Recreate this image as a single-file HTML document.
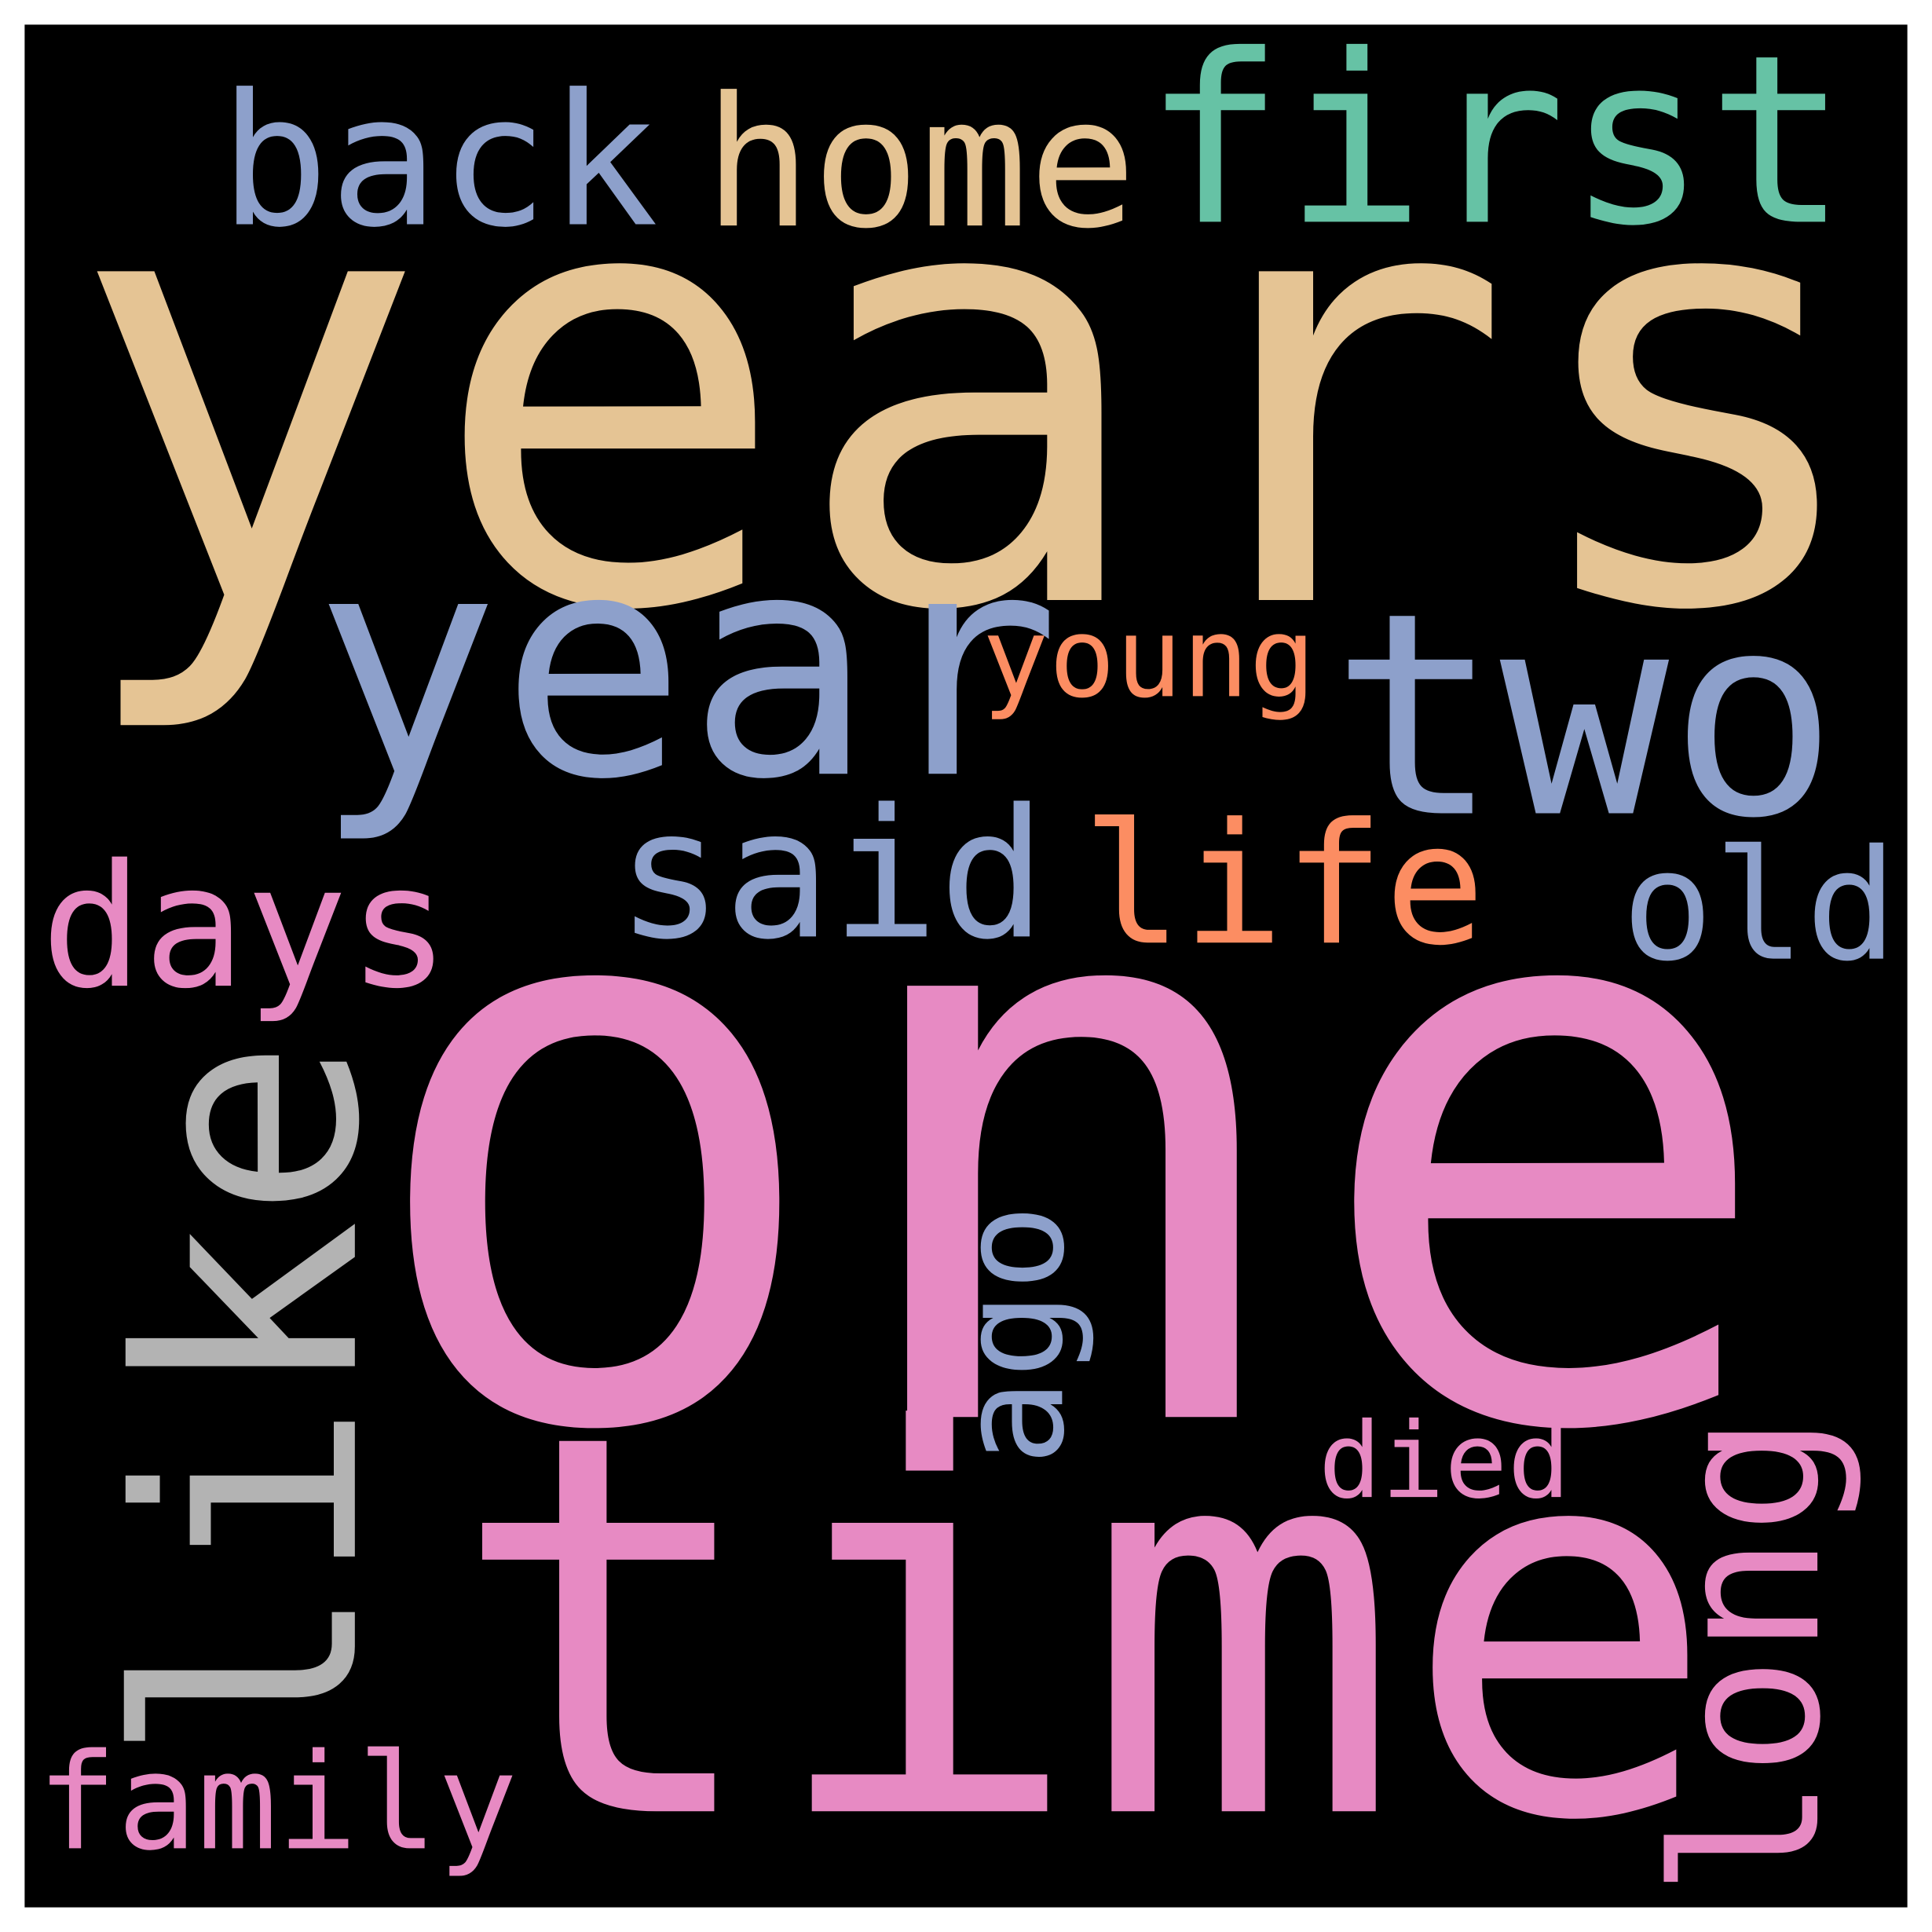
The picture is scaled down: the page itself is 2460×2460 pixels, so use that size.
<!DOCTYPE html>
<html><head><meta charset="utf-8"><style>
html,body{margin:0;padding:0;background:#fff;width:2460px;height:2460px;overflow:hidden}
svg{display:block}
text{font-family:"DejaVu Sans Mono","Liberation Mono",monospace}
</style></head><body>
<svg width="2460" height="2460" viewBox="0 0 1568 1568" xmlns="http://www.w3.org/2000/svg">
<rect x="20" y="20" width="1528" height="1528" fill="#000"/>
<text x="928" y="180" font-size="190" fill="#66c2a5">first</text>
<text x="178" y="182" font-size="148" fill="#8da0cb">back</text>
<text x="571" y="183" font-size="146" fill="#e5c494">home</text>
<text x="54" y="487" font-size="488" fill="#e5c494">years</text>
<text x="254" y="628" font-size="252" fill="#8da0cb">year</text>
<text x="797" y="565" font-size="90" fill="#fc8d62">young</text>
<text x="1080" y="660" font-size="228" fill="#8da0cb">two</text>
<text x="500" y="760" font-size="145" fill="#8da0cb">said</text>
<text x="878" y="765" font-size="136" fill="#fc8d62">life</text>
<text x="1316" y="778" font-size="124" fill="#8da0cb">old</text>
<text x="33" y="800" font-size="138" fill="#e78ac3">days</text>
<text x="290" y="1150" font-size="640" fill="#e78ac3">one</text>
<text x="364" y="1470" font-size="428" fill="#e78ac3">time</text>
<text x="1070" y="1215" font-size="85" fill="#e78ac3">died</text>
<text x="30" y="1500" font-size="108" fill="#e78ac3">family</text>
<text transform="translate(288,1432) rotate(-90)" x="0" y="0" font-size="245" fill="#b3b3b3">like</text>
<text transform="translate(862,1190) rotate(-90)" x="0" y="0" font-size="118" fill="#8da0cb">ago</text>
<text transform="translate(1475,1540) rotate(-90)" x="0" y="0" font-size="163" fill="#e78ac3">long</text>
</svg>
</body></html>
